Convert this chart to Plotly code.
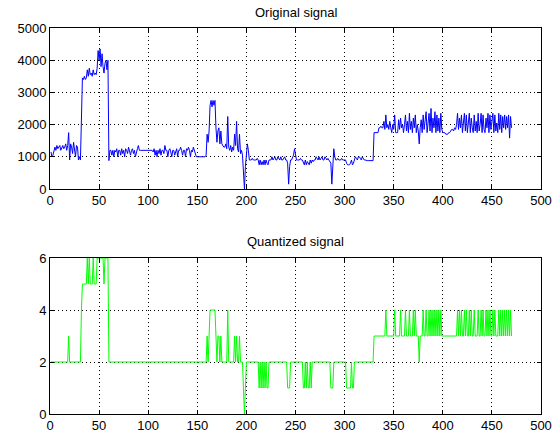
import plotly.graph_objects as go

# ---- data (sample index 1..470) ----
original_a = [1150, 1000, 1050, 1250, 1300, 1200, 1350, 1250, 1300, 1350, 1200, 1300, 1350, 1250, 1300,
              1400, 1200, 1350, 1750, 900, 1400, 1300, 1100, 1450, 1200, 1000, 1350, 1300, 900, 1000]
original_b = [900, 2500, 3450, 3400, 3500, 3400, 3450, 3700, 3500, 3750, 3550, 3600, 3500, 3700, 3550,
              3600, 3550, 3750, 4300, 4000, 4350, 3800, 4200, 3800, 3600, 3900, 4000, 3700, 4000, 880]
original_c = [1200, 1200, 1050, 1200, 1000, 1200, 1150, 1250, 1000, 1200,
              1200, 1050, 1250, 1100, 1200, 1000, 1250, 1200, 1100, 1300,
              1200, 1050, 1200, 1250, 1100, 1200, 1000, 1200, 1250, 1350,
              1200, 1200, 1200, 1200, 1200, 1200, 1200, 1200, 1200, 1200,
              1200, 1200, 1200, 1200, 1150, 1250, 1050, 1200, 1000, 1200,
              1100, 1250, 1050, 1200, 1200, 1100, 1350, 1200, 1200, 1000,
              1200, 1250, 1150, 1000, 1200, 1200, 1050, 1200, 1250, 1000,
              1200, 1200, 1300, 1200, 1050, 1200, 1200, 1000, 1250, 1200,
              1300, 1200, 1000, 1200, 1150, 1300, 1200, 1050,
              1000, 1000, 1000, 1000, 1000, 1000, 1000, 1000, 1000, 1000]
original_d = [1050, 1700, 1450, 1800, 2600, 2750, 2550, 2750, 2600, 2750,
              1900, 1450, 1800, 1900, 1400, 1800, 1400, 1350, 1300, 1300,
              1400, 1250, 2250, 1300, 1200, 1350, 1150, 1300, 1200, 1700,
              1350, 2100, 1250, 1150, 1700, 1100, 1200, 1050, 400, 0,
              700, 1200, 1400, 1200]
original_e = [900, 900, 900, 950, 900, 900, 900, 900, 950, 900,
              750, 900, 750, 850, 750, 900, 750, 900, 800, 750, 900, 900,
              900, 1000, 900, 950, 1000, 900, 900, 1000, 950, 900, 1000, 900, 900, 950, 1000, 900, 900, 800,
              150,
              700, 900, 900, 1000, 1050, 1250, 1000,
              900, 900, 900, 900, 950, 900, 900,
              800, 750, 900, 750, 850, 800, 750, 900, 800, 900, 850, 900,
              900, 1000, 950, 900, 1000, 900, 950, 1000, 900, 900, 1000, 950, 900, 950, 900, 850,
              800, 150, 700, 1250, 1000,
              900, 900, 950, 900, 900, 900, 950, 900, 900, 900, 900,
              800, 750, 750, 750, 800, 900, 750, 800,
              900, 1000, 950, 900, 1000, 1000, 950, 900, 1000, 950, 900,
              900, 880, 880, 880, 880, 880, 880, 880, 880,
              1750, 1750, 1750, 1750, 1750,
              1900, 1900, 1950, 1900, 1900]
original_f = [2100, 1850, 2300, 1900, 2000, 1850, 2100, 1900, 1750, 2000, 1850,
              2300, 1750, 1750, 1750, 2150, 1850, 2200, 1900, 2000, 1750,
              2000, 2300, 1800, 2100, 1750, 2350, 1850, 2100, 1750, 2200,
              1900, 2300, 1750, 2000, 1800, 1400, 1900, 2150, 1750, 2300,
              1850, 2100, 2400, 1750, 2000, 2350, 1800, 2500, 1750, 2200,
              1900, 2400, 1750, 2300, 1800, 2200, 1750, 2350, 1850, 1750,
              1750, 1750, 1700, 1700, 1700, 1750, 1750, 1800, 1850, 1850, 1800, 1900, 1850, 2000,
              2350, 1850, 2200, 1900, 2300, 1750, 2000, 2350, 1800, 2300, 1750,
              2100, 2350, 1750, 2200, 1900, 1750, 2300, 1800, 2100, 1750,
              2350, 1800, 2000, 2350, 1750, 2300, 1850, 1750, 2200, 1900,
              2350, 1750, 2300, 1850, 2100, 2350, 1750, 2300, 1800, 2050,
              1750, 2350, 1850, 2300, 1750, 2250, 1900, 2300, 1850, 2250, 1900, 2300, 1580, 2250, 1900]

quant_a = [2] * 18 + [3] + [2] * 11
quant_b = [2, 4, 5, 5, 5, 5, 5, 6, 5, 6, 5, 5, 5, 6, 5, 5, 5, 6, 6, 6, 6, 6, 6, 6, 5, 6, 6, 6, 6, 2]
quant_c = [2] * 98
quant_d = [2, 3, 2, 3, 4, 4, 4, 4, 4, 4,
           3, 2, 3, 3, 2, 3, 2, 2, 2, 2,
           2, 2, 4, 2, 2, 2, 2, 2, 2, 3,
           2, 3, 2, 2, 3, 2, 2, 2, 1, 0,
           1, 2, 2, 2]
quant_e = ([2] * 10 +
           [1, 2, 1, 2, 1, 2, 1, 2, 1, 1, 2, 2] +
           [2] * 17 + [1] +
           [1] +
           [1, 2, 2, 2, 2, 2, 2] +
           [2] * 7 +
           [1, 1, 2, 1, 2, 1, 1, 2, 1, 2, 2, 2] +
           [2] * 16 +
           [1, 1, 1, 2, 2] +
           [2] * 11 +
           [1, 1, 1, 1, 1, 2, 1, 1] +
           [2] * 11 +
           [2] * 9 +
           [3] * 5 +
           [3] * 5)
quant_f = ([3, 3, 4, 3, 3, 3, 3, 3, 3, 3, 3] +
           [4, 3, 3, 3, 3, 3, 4, 3, 3, 3] +
           [3, 4, 3, 3, 3, 4, 3, 3, 3, 4] +
           [3, 4, 3, 3, 3, 2, 3, 3, 3, 4] +
           [3, 3, 4, 3, 3, 4, 3, 4, 3, 4] +
           [3, 4, 3, 4, 3, 4, 3, 4, 3, 3] +
           [3] * 14 +
           [4, 3, 4, 3, 4, 3, 3, 4, 3, 4, 3] +
           [3, 4, 3, 4, 3, 3, 4, 3, 3, 3] +
           [4, 3, 3, 4, 3, 4, 3, 3, 4, 3] +
           [4, 3, 4, 3, 3, 4, 3, 4, 3, 3] +
           [3, 4, 3, 4, 3, 4, 3, 4, 3, 4, 3, 4, 3, 4, 3])

original = original_a + original_b + original_c + original_d + original_e + original_f
quantized = quant_a + quant_b + quant_c + quant_d + quant_e + quant_f
samples = list(range(1, len(original) + 1))

titles = ["Original signal", "Quantized signal"]
x_ticks = [0, 50, 100, 150, 200, 250, 300, 350, 400, 450, 500]
y1_ticks = [0, 1000, 2000, 3000, 4000, 5000]
y2_ticks = [0, 2, 4, 6]

FONT = "Liberation Sans"

fig = go.Figure()
fig.add_trace(go.Scatter(x=samples, y=original, mode="lines",
                         line=dict(color="#0000ff", width=1), xaxis="x", yaxis="y",
                         showlegend=False))
fig.add_trace(go.Scatter(x=samples[:len(quantized)], y=quantized, mode="lines",
                         line=dict(color="#00ff00", width=1), xaxis="x2", yaxis="y2",
                         showlegend=False))

axis_style = dict(showline=True, linecolor="black", linewidth=1, mirror="ticks",
                  ticks="inside", ticklen=4, tickcolor="black", tickwidth=1,
                  showgrid=True, gridcolor="black", gridwidth=1, griddash="1px,3px",
                  zeroline=False, automargin=False,
                  tickfont=dict(family=FONT, size=13, color="black"))
x_style = dict(ticklabelstandoff=-1, **axis_style)
y_style = dict(ticklabelstandoff=0, **axis_style)

fig.update_layout(
    width=552, height=441,
    margin=dict(l=50, r=11, t=28, b=27),
    paper_bgcolor="white", plot_bgcolor="white",
    xaxis=dict(domain=[0, 1], anchor="y", range=[0, 500], tickvals=x_ticks, **x_style),
    yaxis=dict(domain=[0.583, 1], anchor="x", range=[0, 5000], tickvals=y1_ticks, **y_style),
    xaxis2=dict(domain=[0, 1], anchor="y2", range=[0, 500], tickvals=x_ticks, **x_style),
    yaxis2=dict(domain=[0, 0.404], anchor="x2", range=[0, 6], tickvals=y2_ticks, **y_style),
    annotations=[
        dict(text=titles[0], x=0.5, y=1.039, xref="paper", yref="paper", showarrow=False,
             xanchor="center", yanchor="middle", font=dict(family=FONT, size=13, color="black")),
        dict(text=titles[1], x=0.5, y=0.4456, xref="paper", yref="paper", showarrow=False,
             xanchor="center", yanchor="middle", font=dict(family=FONT, size=13, color="black")),
    ],
)

fig.write_html("out.html", config={"displayModeBar": False},
               post_script="document.body.style.margin='0';document.body.style.overflow='hidden';")
